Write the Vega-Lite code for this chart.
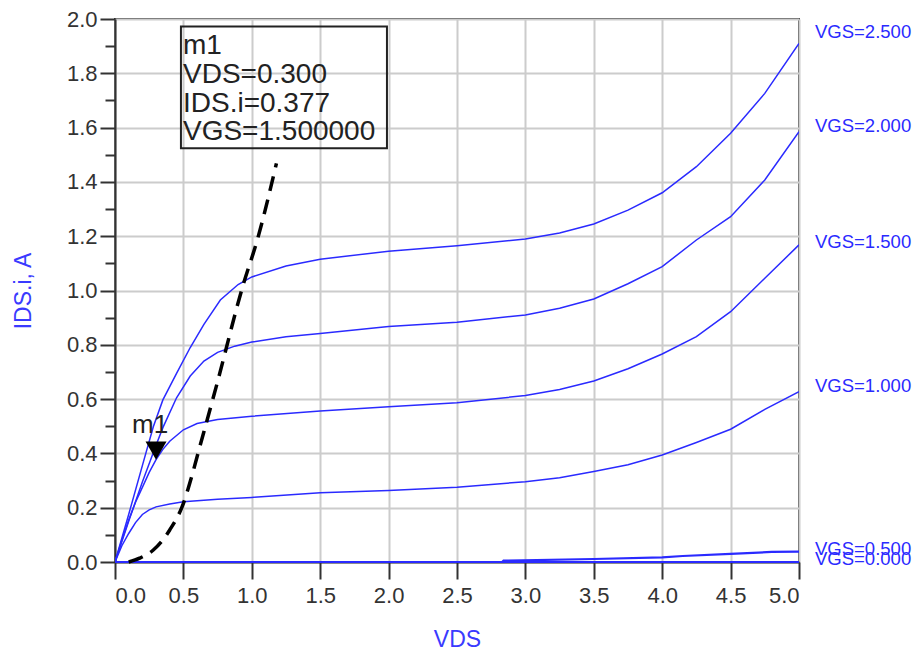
{
  "$schema": "https://vega.github.io/schema/vega-lite/v6.json",
  "width": 684,
  "height": 543,
  "autosize": {"type": "none"},
  "padding": {"left": 115, "top": 19, "right": 118, "bottom": 96},
  "background": "white",
  "config": {
    "font": "Liberation Sans",
    "view": {"stroke": "#333333", "strokeWidth": 2},
    "axis": {"labelFont": "Liberation Sans", "titleFont": "Liberation Sans"},
    "axisX": {
      "format": ".1f",
      "titleColor": "#3a3aff",
      "titleFontSize": 23,
      "titleFontWeight": "normal",
      "titlePadding": 22,
      "labelFontSize": 22,
      "labelColor": "#333333",
      "labelPadding": 6,
      "tickSize": 17,
      "tickColor": "#333333",
      "tickWidth": 2,
      "domainColor": "#333333",
      "domainWidth": 2,
      "grid": true,
      "gridColor": "#cccccc",
      "gridWidth": 2
    }
  },
  "datasets": {
    "curves": [
      {"VGS": "2.500", "VDS": 0, "IDS": 0},
      {"VGS": "2.500", "VDS": 0.1, "IDS": 0.175},
      {"VGS": "2.500", "VDS": 0.2, "IDS": 0.355},
      {"VGS": "2.500", "VDS": 0.28, "IDS": 0.498},
      {"VGS": "2.500", "VDS": 0.35, "IDS": 0.597},
      {"VGS": "2.500", "VDS": 0.45, "IDS": 0.695},
      {"VGS": "2.500", "VDS": 0.55, "IDS": 0.79},
      {"VGS": "2.500", "VDS": 0.65, "IDS": 0.875},
      {"VGS": "2.500", "VDS": 0.77, "IDS": 0.965},
      {"VGS": "2.500", "VDS": 0.9, "IDS": 1.022},
      {"VGS": "2.500", "VDS": 1.0, "IDS": 1.05},
      {"VGS": "2.500", "VDS": 1.25, "IDS": 1.09},
      {"VGS": "2.500", "VDS": 1.5, "IDS": 1.115},
      {"VGS": "2.500", "VDS": 2.0, "IDS": 1.145},
      {"VGS": "2.500", "VDS": 2.5, "IDS": 1.165},
      {"VGS": "2.500", "VDS": 3.0, "IDS": 1.19},
      {"VGS": "2.500", "VDS": 3.25, "IDS": 1.212},
      {"VGS": "2.500", "VDS": 3.5, "IDS": 1.245},
      {"VGS": "2.500", "VDS": 3.75, "IDS": 1.296},
      {"VGS": "2.500", "VDS": 4.0, "IDS": 1.36},
      {"VGS": "2.500", "VDS": 4.25, "IDS": 1.456},
      {"VGS": "2.500", "VDS": 4.5, "IDS": 1.579},
      {"VGS": "2.500", "VDS": 4.75, "IDS": 1.726},
      {"VGS": "2.500", "VDS": 5.0, "IDS": 1.91},
      {"VGS": "2.000", "VDS": 0, "IDS": 0},
      {"VGS": "2.000", "VDS": 0.1, "IDS": 0.15},
      {"VGS": "2.000", "VDS": 0.2, "IDS": 0.295},
      {"VGS": "2.000", "VDS": 0.3, "IDS": 0.43},
      {"VGS": "2.000", "VDS": 0.35, "IDS": 0.495},
      {"VGS": "2.000", "VDS": 0.45, "IDS": 0.605},
      {"VGS": "2.000", "VDS": 0.55, "IDS": 0.685},
      {"VGS": "2.000", "VDS": 0.65, "IDS": 0.74},
      {"VGS": "2.000", "VDS": 0.75, "IDS": 0.772},
      {"VGS": "2.000", "VDS": 0.875, "IDS": 0.795},
      {"VGS": "2.000", "VDS": 1.0, "IDS": 0.81},
      {"VGS": "2.000", "VDS": 1.25, "IDS": 0.83},
      {"VGS": "2.000", "VDS": 1.5, "IDS": 0.842},
      {"VGS": "2.000", "VDS": 2.0, "IDS": 0.867},
      {"VGS": "2.000", "VDS": 2.5, "IDS": 0.883},
      {"VGS": "2.000", "VDS": 3.0, "IDS": 0.91},
      {"VGS": "2.000", "VDS": 3.25, "IDS": 0.935},
      {"VGS": "2.000", "VDS": 3.5, "IDS": 0.969},
      {"VGS": "2.000", "VDS": 3.75, "IDS": 1.025},
      {"VGS": "2.000", "VDS": 4.0, "IDS": 1.088},
      {"VGS": "2.000", "VDS": 4.25, "IDS": 1.186},
      {"VGS": "2.000", "VDS": 4.5, "IDS": 1.272},
      {"VGS": "2.000", "VDS": 4.75, "IDS": 1.407},
      {"VGS": "2.000", "VDS": 5.0, "IDS": 1.585},
      {"VGS": "1.500", "VDS": 0, "IDS": 0},
      {"VGS": "1.500", "VDS": 0.05, "IDS": 0.08},
      {"VGS": "1.500", "VDS": 0.1, "IDS": 0.155},
      {"VGS": "1.500", "VDS": 0.15, "IDS": 0.22},
      {"VGS": "1.500", "VDS": 0.2, "IDS": 0.275},
      {"VGS": "1.500", "VDS": 0.25, "IDS": 0.33},
      {"VGS": "1.500", "VDS": 0.3, "IDS": 0.377},
      {"VGS": "1.500", "VDS": 0.35, "IDS": 0.415},
      {"VGS": "1.500", "VDS": 0.4, "IDS": 0.445},
      {"VGS": "1.500", "VDS": 0.5, "IDS": 0.487},
      {"VGS": "1.500", "VDS": 0.6, "IDS": 0.51},
      {"VGS": "1.500", "VDS": 0.75, "IDS": 0.525},
      {"VGS": "1.500", "VDS": 1.0, "IDS": 0.537},
      {"VGS": "1.500", "VDS": 1.5, "IDS": 0.556},
      {"VGS": "1.500", "VDS": 2.0, "IDS": 0.572},
      {"VGS": "1.500", "VDS": 2.5, "IDS": 0.587},
      {"VGS": "1.500", "VDS": 3.0, "IDS": 0.613},
      {"VGS": "1.500", "VDS": 3.25, "IDS": 0.635},
      {"VGS": "1.500", "VDS": 3.5, "IDS": 0.667},
      {"VGS": "1.500", "VDS": 3.75, "IDS": 0.712},
      {"VGS": "1.500", "VDS": 4.0, "IDS": 0.766},
      {"VGS": "1.500", "VDS": 4.25, "IDS": 0.83},
      {"VGS": "1.500", "VDS": 4.5, "IDS": 0.922},
      {"VGS": "1.500", "VDS": 4.75, "IDS": 1.045},
      {"VGS": "1.500", "VDS": 5.0, "IDS": 1.168},
      {"VGS": "1.000", "VDS": 0, "IDS": 0},
      {"VGS": "1.000", "VDS": 0.05, "IDS": 0.06},
      {"VGS": "1.000", "VDS": 0.1, "IDS": 0.105},
      {"VGS": "1.000", "VDS": 0.15, "IDS": 0.145},
      {"VGS": "1.000", "VDS": 0.2, "IDS": 0.175},
      {"VGS": "1.000", "VDS": 0.25, "IDS": 0.192},
      {"VGS": "1.000", "VDS": 0.3, "IDS": 0.203},
      {"VGS": "1.000", "VDS": 0.4, "IDS": 0.214},
      {"VGS": "1.000", "VDS": 0.5, "IDS": 0.222},
      {"VGS": "1.000", "VDS": 0.75, "IDS": 0.231},
      {"VGS": "1.000", "VDS": 1.0, "IDS": 0.238},
      {"VGS": "1.000", "VDS": 1.5, "IDS": 0.255},
      {"VGS": "1.000", "VDS": 2.0, "IDS": 0.263},
      {"VGS": "1.000", "VDS": 2.5, "IDS": 0.275},
      {"VGS": "1.000", "VDS": 3.0, "IDS": 0.296},
      {"VGS": "1.000", "VDS": 3.25, "IDS": 0.31},
      {"VGS": "1.000", "VDS": 3.5, "IDS": 0.333},
      {"VGS": "1.000", "VDS": 3.75, "IDS": 0.358},
      {"VGS": "1.000", "VDS": 4.0, "IDS": 0.394},
      {"VGS": "1.000", "VDS": 4.25, "IDS": 0.44},
      {"VGS": "1.000", "VDS": 4.5, "IDS": 0.489},
      {"VGS": "1.000", "VDS": 4.75, "IDS": 0.562},
      {"VGS": "1.000", "VDS": 5.0, "IDS": 0.627},
      {"VGS": "0.500", "VDS": 0, "IDS": 0},
      {"VGS": "0.500", "VDS": 2.83, "IDS": 0},
      {"VGS": "0.500", "VDS": 2.84, "IDS": 0.005},
      {"VGS": "0.500", "VDS": 3.5, "IDS": 0.011},
      {"VGS": "0.500", "VDS": 4.0, "IDS": 0.017},
      {"VGS": "0.500", "VDS": 4.15, "IDS": 0.022},
      {"VGS": "0.500", "VDS": 4.5, "IDS": 0.03},
      {"VGS": "0.500", "VDS": 4.8, "IDS": 0.037},
      {"VGS": "0.500", "VDS": 5.0, "IDS": 0.038},
      {"VGS": "0.000", "VDS": 0, "IDS": 0},
      {"VGS": "0.000", "VDS": 5.0, "IDS": 0}
    ],
    "loadline": [
      {"VDS": 0.1, "IDS": 0},
      {"VDS": 0.18, "IDS": 0.014},
      {"VDS": 0.28, "IDS": 0.044},
      {"VDS": 0.4, "IDS": 0.118},
      {"VDS": 0.5, "IDS": 0.216},
      {"VDS": 0.56, "IDS": 0.314},
      {"VDS": 0.62, "IDS": 0.425},
      {"VDS": 0.68, "IDS": 0.535},
      {"VDS": 0.74, "IDS": 0.646},
      {"VDS": 0.94, "IDS": 1.026},
      {"VDS": 1.04, "IDS": 1.186},
      {"VDS": 1.18, "IDS": 1.468}
    ],
    "marker": [{"VDS": 0.3, "IDS": 0.377, "name": "m1"}],
    "box": [{"VDS": 0.482, "VDS2": 1.988, "IDS": 1.972, "IDS2": 1.524}],
    "boxtext": [
      {"VDS": 0.497, "IDS": 1.872, "text": "m1"},
      {"VDS": 0.497, "IDS": 1.763, "text": "VDS=0.300"},
      {"VDS": 0.497, "IDS": 1.659, "text": "IDS.i=0.377"},
      {"VDS": 0.497, "IDS": 1.554, "text": "VGS=1.500000"}
    ],
    "labels": [
      {"VDS": 5.0, "IDS": 1.93, "label": "VGS=2.500"},
      {"VDS": 5.0, "IDS": 1.584, "label": "VGS=2.000"},
      {"VDS": 5.0, "IDS": 1.157, "label": "VGS=1.500"},
      {"VDS": 5.0, "IDS": 0.626, "label": "VGS=1.000"},
      {"VDS": 5.0, "IDS": 0.026, "label": "VGS=0.500"},
      {"VDS": 5.0, "IDS": -0.011, "label": "VGS=0.000"}
    ]
  },
  "resolve": {"axis": {"y": "independent"}},
  "layer": [
    {
      "data": {"name": "curves"},
      "transform": [{"filter": "datum.VGS != '0.000' && datum.VGS != '0.500'"}],
      "mark": {"type": "line", "color": "#2a2aff", "strokeWidth": 1.5, "clip": true},
      "encoding": {
        "x": {
          "field": "VDS", "type": "quantitative", "title": "VDS",
          "scale": {"domain": [0, 5], "nice": false, "zero": false},
          "axis": {"values": [0, 0.5, 1, 1.5, 2, 2.5, 3, 3.5, 4, 4.5, 5]}
        },
        "y": {
          "field": "IDS", "type": "quantitative",
          "scale": {"domain": [0, 2], "nice": false, "zero": false},
          "axis": {
            "orient": "left",
            "values": [0, 0.2, 0.4, 0.6, 0.8, 1.0, 1.2, 1.4, 1.6, 1.8, 2.0],
            "format": ".1f",
            "title": "IDS.i, A",
            "titleColor": "#3a3aff",
            "titleFontSize": 23,
            "titleFontWeight": "normal",
            "titlePadding": 31,
            "labelFontSize": 22,
            "labelColor": "#333333",
            "labelPadding": 3,
            "tickSize": 15,
            "tickColor": "#333333",
            "tickWidth": 2,
            "domainColor": "#333333",
            "domainWidth": 2,
            "grid": true,
            "gridColor": "#cccccc",
            "gridWidth": 2
          }
        },
        "detail": {"field": "VGS", "type": "nominal"}
      }
    },
    {
      "data": {"name": "curves"},
      "transform": [{"filter": "datum.VGS == '0.000' || datum.VGS == '0.500'"}],
      "mark": {"type": "line", "color": "#2a2aff", "strokeWidth": 2.2},
      "encoding": {
        "x": {"field": "VDS", "type": "quantitative", "title": "VDS"},
        "y": {"field": "IDS", "type": "quantitative", "axis": null},
        "detail": {"field": "VGS", "type": "nominal"}
      }
    },
    {
      "data": {"name": "loadline"},
      "mark": {"type": "line", "color": "black", "strokeWidth": 3.5, "strokeDash": [15, 9], "interpolate": "monotone"},
      "encoding": {
        "x": {"field": "VDS", "type": "quantitative", "title": "VDS"},
        "y": {
          "field": "IDS", "type": "quantitative",
          "axis": {
            "orient": "left",
            "values": [0.1, 0.3, 0.5, 0.7, 0.9, 1.1, 1.3, 1.5, 1.7, 1.9],
            "labels": false,
            "domain": false,
            "grid": false,
            "title": null,
            "tickSize": 10,
            "tickColor": "#333333",
            "tickWidth": 2
          }
        }
      }
    },
    {
      "data": {"name": "box"},
      "mark": {"type": "rect", "fill": null, "fillOpacity": 0, "stroke": "#222222", "strokeWidth": 2},
      "encoding": {
        "x": {"field": "VDS", "type": "quantitative", "title": "VDS"},
        "x2": {"field": "VDS2"},
        "y": {"field": "IDS", "type": "quantitative", "axis": null},
        "y2": {"field": "IDS2"}
      }
    },
    {
      "data": {"name": "boxtext"},
      "mark": {"type": "text", "align": "left", "baseline": "alphabetic", "fontSize": 28, "color": "#222222"},
      "encoding": {
        "x": {"field": "VDS", "type": "quantitative", "title": "VDS"},
        "y": {"field": "IDS", "type": "quantitative", "axis": null},
        "text": {"field": "text"}
      }
    },
    {
      "data": {"name": "marker"},
      "mark": {"type": "point", "shape": "triangle-down", "size": 441, "filled": true, "color": "black", "opacity": 1, "yOffset": -9},
      "encoding": {
        "x": {"field": "VDS", "type": "quantitative", "title": "VDS"},
        "y": {"field": "IDS", "type": "quantitative", "axis": null}
      }
    },
    {
      "data": {"name": "marker"},
      "mark": {"type": "text", "align": "center", "baseline": "alphabetic", "fontSize": 26, "color": "#222222", "dx": -6, "dy": -27},
      "encoding": {
        "x": {"field": "VDS", "type": "quantitative", "title": "VDS"},
        "y": {"field": "IDS", "type": "quantitative", "axis": null},
        "text": {"field": "name"}
      }
    },
    {
      "data": {"name": "labels"},
      "mark": {"type": "text", "align": "left", "baseline": "alphabetic", "fontSize": 18.5, "color": "#2a2aff", "dx": 16},
      "encoding": {
        "x": {"field": "VDS", "type": "quantitative", "title": "VDS"},
        "y": {"field": "IDS", "type": "quantitative", "axis": null},
        "text": {"field": "label"}
      }
    }
  ]
}
